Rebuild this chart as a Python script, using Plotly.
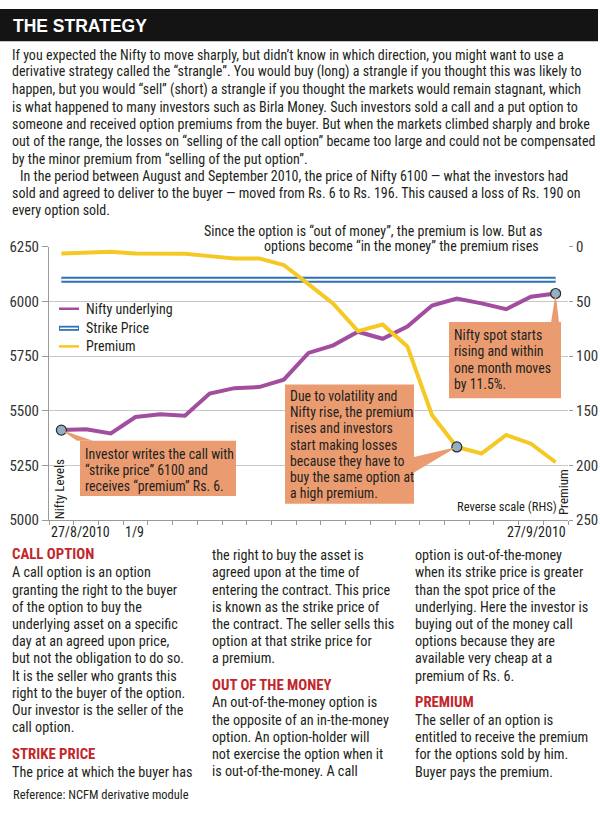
import plotly.graph_objects as go

# ---------------- data ----------------
dates = ["27/8", "30/8", "31/8", "1/9", "2/9", "3/9", "6/9", "7/9", "8/9", "9/9",
         "13/9", "14/9", "15/9", "16/9", "17/9", "20/9", "21/9", "22/9", "23/9", "24/9", "27/9"]
nifty = [5412, 5416, 5397, 5472, 5485, 5478, 5579, 5604, 5609, 5643,
         5765, 5800, 5862, 5830, 5886, 5982, 6014, 5992, 5965, 6022, 6037]
premium = [6, 5.4, 4.5, 6, 6.3, 6.3, 8.4, 10.5, 10.5, 16.5,
           34, 52, 77, 71, 91, 154, 183, 189, 172, 180, 197]
strike_price = 6100
left_ticks = [5000, 5250, 5500, 5750, 6000, 6250]
right_ticks = [0, 50, 100, 150, 200, 250]
x_labels = ["27/8/2010", "1/9", "27/9/2010"]
x_label_dates = ["27/8", "1/9", "27/9"]
dot_nifty = ["27/8", "27/9"]
dot_premium = ["21/9"]

W, H = 600, 817
BODY = "Liberation Sans Narrow, Arial Narrow, Roboto Condensed, DejaVu Sans Condensed, sans-serif"
TXT = "#231f20"
PURPLE = "#a24d9e"
YELLOW = "#f6c823"
BLUE = "#2a72b4"
BOX = "#ea9c70"
RED = "#c1272d"
GRID = "#c8c8c8"

# plot area in pixels
PX0, PX1 = 49, 568
PY_TOP, PY_BOT = 243.3, 522.7
dom_x = [PX0 / W, PX1 / W]
dom_y = [1 - PY_BOT / H, 1 - PY_TOP / H]
n = len(dates)
xi = list(range(n))


def px(x):
    return x / W


def py(y):
    return 1 - y / H


def data_x_paper(i):
    return dom_x[0] + (i + 0.5) / n * (dom_x[1] - dom_x[0])


def nifty_paper(v):
    return dom_y[0] + (v - left_ticks[0]) / (left_ticks[-1] - left_ticks[0]) * (dom_y[1] - dom_y[0])


def prem_paper(v):
    return dom_y[1] - (v - right_ticks[0]) / (right_ticks[-1] - right_ticks[0]) * (dom_y[1] - dom_y[0])


fig = go.Figure()

fig.add_trace(go.Scatter(x=xi, y=[strike_price] * n, mode="lines",
                         line=dict(color=BLUE, width=6), hoverinfo="skip", name="Strike Price"))
fig.add_trace(go.Scatter(x=xi, y=[strike_price] * n, mode="lines",
                         line=dict(color="white", width=2), hoverinfo="skip", showlegend=False))
fig.add_trace(go.Scatter(x=xi, y=nifty, mode="lines", line=dict(color=PURPLE, width=4),
                         name="Nifty underlying"))
fig.add_trace(go.Scatter(x=xi, y=premium, mode="lines", line=dict(color=YELLOW, width=4),
                         name="Premium", yaxis="y2"))

# highlighted dots
ni = [dates.index(d) for d in dot_nifty]
fig.add_trace(go.Scatter(x=ni, y=[nifty[i] for i in ni], mode="markers",
                         marker=dict(size=10, color="#8fb0c6", line=dict(color="#2b2b2b", width=1.2)),
                         showlegend=False))
pi = [dates.index(d) for d in dot_premium]
fig.add_trace(go.Scatter(x=pi, y=[premium[i] for i in pi], mode="markers", yaxis="y2",
                         marker=dict(size=10, color="#8fb0c6", line=dict(color="#2b2b2b", width=1.2)),
                         showlegend=False))

shapes = []
ann = []

# header bar
shapes.append(dict(type="rect", xref="paper", yref="paper", x0=0, x1=px(598), y0=py(33), y1=py(0),
                   fillcolor="#141414", line=dict(width=0), layer="below"))
ann.append(dict(text="<b>THE STRATEGY</b>", x=px(11), y=py(17.5), xanchor="left", yanchor="middle",
                font=dict(family="Liberation Sans, Arial, sans-serif", size=17.5, color="white")))


def add_lines(lines, x, y0, dy, size=14, color=TXT, family=BODY):
    for k, t in enumerate(lines):
        if not t:
            continue
        ann.append(dict(text=t, x=px(x), y=py(y0 + k * dy), xanchor="left", yanchor="middle",
                        font=dict(family=family, size=size, color=color)))


intro = [
    "If you expected the Nifty to move sharply, but didn’t know in which direction, you might want to use a",
    "derivative strategy called the “strangle”. You would buy (long) a strangle if you thought this was likely to",
    "happen, but you would “sell” (short) a strangle if you thought the markets would remain stagnant, which",
    "is what happened to many investors such as Birla Money. Such investors sold a call and a put option to",
    "someone and received option premiums from the buyer. But when the markets climbed sharply and broke",
    "out of the range, the losses on “selling of the call option” became too large and could not be compensated",
    "by the minor premium from “selling of the put option”.",
]
intro2 = [
    "In the period between August and September 2010, the price of Nifty 6100 — what the investors had",
]
intro3 = [
    "sold and agreed to deliver to the buyer — moved from Rs. 6 to Rs. 196. This caused a loss of Rs. 190 on",
    "every option sold.",
]
add_lines(intro, 10, 46.7, 17.7)
add_lines(intro2, 18, 46.7 + 7 * 17.7, 17.7)
add_lines(intro3, 10, 46.7 + 8 * 17.7, 17.7)

# note above chart
ann.append(dict(text="Since the option is “out of money”, the premium is low. But as", x=px(202), y=py(226.5),
                xanchor="left", yanchor="middle", font=dict(family=BODY, size=14, color=TXT)))
ann.append(dict(text="options become “in the money” the premium rises", x=px(262), y=py(242.5),
                xanchor="left", yanchor="middle", font=dict(family=BODY, size=14, color=TXT)))

# manual legend
leg = [("Nifty underlying", PURPLE, 306.5), ("Strike Price", BLUE, 326.5), ("Premium", YELLOW, 345)]
for name, col, yy in leg:
    if name == "Strike Price":
        shapes.append(dict(type="line", xref="paper", yref="paper", x0=px(59), x1=px(79), y0=py(yy), y1=py(yy),
                           line=dict(color=BLUE, width=5)))
        shapes.append(dict(type="line", xref="paper", yref="paper", x0=px(60), x1=px(78), y0=py(yy), y1=py(yy),
                           line=dict(color="white", width=1.5)))
    else:
        shapes.append(dict(type="line", xref="paper", yref="paper", x0=px(59), x1=px(79), y0=py(yy), y1=py(yy),
                           line=dict(color=col, width=2.5)))
    ann.append(dict(text=name, x=px(84), y=py(yy), xanchor="left", yanchor="middle",
                    font=dict(family=BODY, size=14, color=TXT)))

# callout boxes: (left, top, right, bottom) in px, text lines, pointer
boxes = [
    ((80, 441.5, 236, 498), ["Investor writes the call with", "“strike price” 6100 and", "receives “premium” Rs. 6."],
     455, ("nifty", "27/8"), [(77, 441.5), (93, 441.5)]),
    ((285, 384, 414, 506), ["Due to volatility and", "Nifty rise, the premium", "rises and investors",
                            "start making losses", "because they have to", "buy the same option at",
                            "a high premium."],
     395.7, ("prem", "21/9"), [(414, 458), (414, 474)]),
    ((449, 320, 561, 398), ["Nifty spot starts", "rising and within", "one month moves", "by 11.5%."],
     333.5, ("nifty", "27/9"), [(551, 320.5), (559, 320.5)]),
]
for (l, t, r, b), lines, ly0, (kind, d), base in boxes:
    i = dates.index(d)
    tx = data_x_paper(i)
    ty = nifty_paper(nifty[i]) if kind == "nifty" else prem_paper(premium[i])
    path = f"M {tx},{ty} L {px(base[0][0])},{py(base[0][1])} L {px(base[1][0])},{py(base[1][1])} Z"
    shapes.append(dict(type="path", xref="paper", yref="paper", path=path, fillcolor=BOX,
                       line=dict(width=0), layer="above"))
    shapes.append(dict(type="rect", xref="paper", yref="paper", x0=px(l), x1=px(r), y0=py(b), y1=py(t),
                       fillcolor=BOX, line=dict(width=0), layer="above"))
    add_lines(lines, l + 3, ly0, 16.6, size=13.8)

# x tick labels
for lab, d in zip(x_labels, x_label_dates):
    i = dates.index(d)
    if lab == x_labels[-1]:
        ann.append(dict(text=lab, x=i + 0.5, xref="x", y=py(535), yref="paper", xanchor="right",
                        yanchor="middle", font=dict(family=BODY, size=14, color=TXT)))
    else:
        ann.append(dict(text=lab, x=i - 0.5, xref="x", y=py(535),
                        yref="paper", xanchor="left", yanchor="middle",
                        font=dict(family=BODY, size=14, color=TXT)))

# axis captions
ann.append(dict(text="Nifty Levels", x=px(59), y=py(491), textangle=-90, xanchor="center", yanchor="middle",
                font=dict(family=BODY, size=13, color=TXT)))
ann.append(dict(text="Premium", x=px(563), y=py(494), textangle=-90, xanchor="center", yanchor="middle",
                font=dict(family=BODY, size=13, color=TXT)))
ann.append(dict(text="Reverse scale (RHS)", x=px(455), y=py(509), xanchor="left", yanchor="middle",
                font=dict(family=BODY, size=12.5, color=TXT)))

# bottom columns
col1 = ["A call option is an option", "granting the right to the buyer", "of the option to buy the",
        "underlying asset on a specific", "day at an agreed upon price,", "but not the obligation to do so.",
        "It is the seller who grants this", "right to the buyer of the option.", "Our investor is the seller of the",
        "call option."]
col1b = ["The price at which the buyer has"]
col2 = ["the right to buy the asset is", "agreed upon at the time of", "entering the contract. This price",
        "is known as the strike price of", "the contract. The seller sells this", "option at that strike price for",
        "a premium."]
col2b = ["An out-of-the-money option is", "the opposite of an in-the-money", "option. An option-holder will",
         "not exercise the option when it", "is out-of-the-money. A call"]
col3 = ["option is out-of-the-money", "when its strike price is greater", "than the spot price of the",
        "underlying. Here the investor is", "buying out of the money call", "options because they are",
        "available very cheap at a", "premium of Rs. 6."]
col3b = ["The seller of an option is", "entitled to receive the premium", "for the options sold by him.",
         "Buyer pays the premium."]

DY = 17.6
CS = 14.2
HFONT = dict(family=BODY, size=14.8, color=RED)


def heading(t, x, y):
    ann.append(dict(text=f"<b>{t}</b>", x=px(x), y=py(y), xanchor="left", yanchor="middle", font=HFONT))


heading("CALL OPTION", 10, 557.5)
add_lines(col1, 10, 576, DY, size=CS)
heading("STRIKE PRICE", 10, 762)
add_lines(col1b, 10, 780, DY, size=CS)
add_lines(col2, 210, 558.5, DY, size=CS)
heading("OUT OF THE MONEY", 210, 691)
add_lines(col2b, 210, 709, DY, size=CS)
add_lines(col3, 413, 558.5, DY, size=CS)
heading("PREMIUM", 413, 709)
add_lines(col3b, 413, 727, DY, size=CS)
ann.append(dict(text="Reference: NCFM derivative module", x=px(11), y=py(803), xanchor="left", yanchor="middle",
                font=dict(family=BODY, size=12.5, color=TXT)))

for a in ann:
    a.setdefault("xref", "paper")
    a.setdefault("yref", "paper")
    a["showarrow"] = False

fig.update_layout(
    width=W, height=H, margin=dict(l=0, r=0, t=0, b=0),
    paper_bgcolor="white", plot_bgcolor="white", showlegend=False,
    font=dict(family=BODY, size=15, color="#333333"),
    xaxis=dict(domain=dom_x, range=[-0.5, n - 0.5], tickvals=[k - 0.5 for k in range(n + 1)],
               ticktext=[""] * (n + 1), ticks="outside", ticklen=4, tickcolor="#9a9a9a",
               showgrid=False, zeroline=False, showline=True, linecolor="#9a9a9a", linewidth=1),
    yaxis=dict(domain=dom_y, range=[left_ticks[0], left_ticks[-1]], tickvals=left_ticks,
               ticks="outside", ticklen=6, tickcolor="#9a9a9a", showgrid=True, gridcolor=GRID,
               zeroline=False, showline=True, linecolor="#9a9a9a", tickfont=dict(size=15, color="#333333")),
    yaxis2=dict(overlaying="y", side="right", range=[right_ticks[-1], right_ticks[0]], tickvals=right_ticks,
                ticks="outside", ticklen=4, tickcolor="#9a9a9a", showgrid=False, zeroline=False,
                showline=False, tickfont=dict(size=15, color="#333333")),
    shapes=shapes, annotations=ann,
)

fig.write_html("out.html", config=dict(displayModeBar=False),
               post_script="document.body.style.margin='0px';document.body.style.overflow='hidden';")
